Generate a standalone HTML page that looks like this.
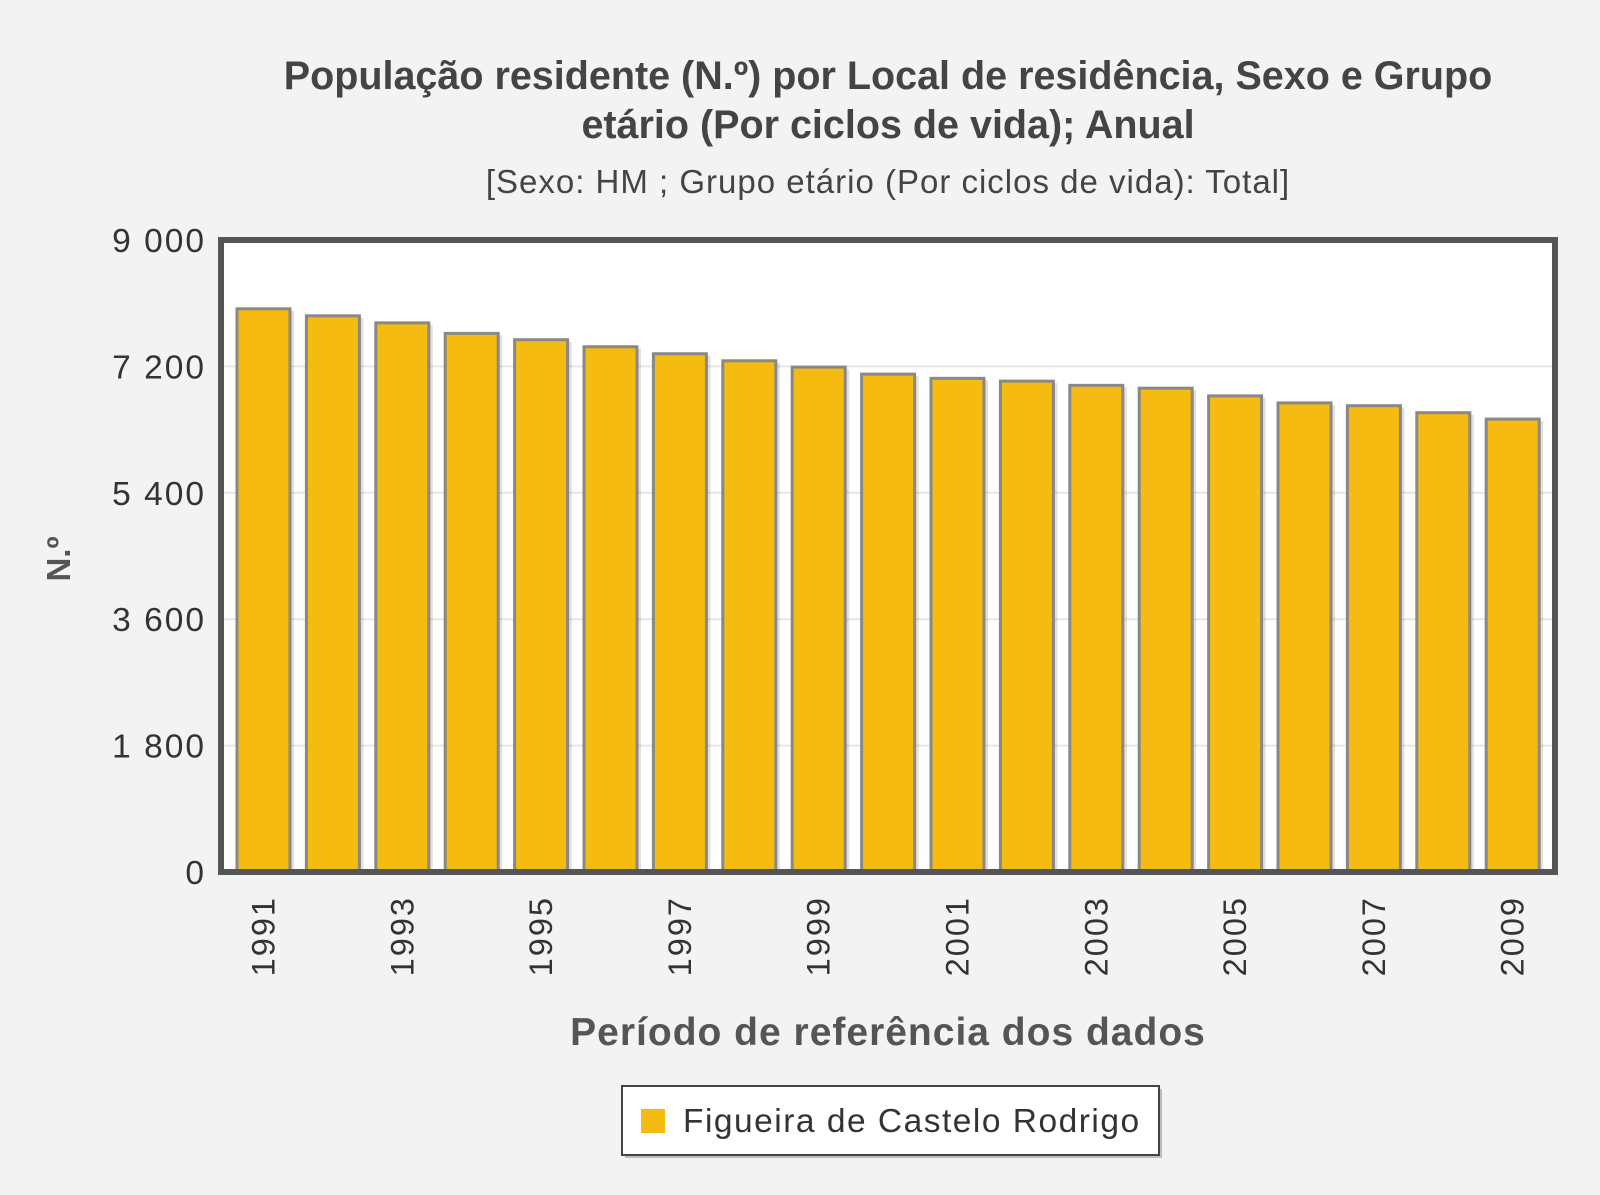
<!DOCTYPE html>
<html><head><meta charset="utf-8"><style>
body{margin:0;background:#f3f3f3;}
svg{display:block;font-family:"Liberation Sans",sans-serif;}
</style></head><body>
<svg width="1600" height="1195" viewBox="0 0 1600 1195">
<rect x="0" y="0" width="1600" height="1195" fill="#f3f3f3"/>
<text x="888" y="89" text-anchor="middle" font-size="39.5" font-weight="bold" fill="#444">População residente (N.º) por Local de residência, Sexo e Grupo</text>
<text x="888" y="138" text-anchor="middle" font-size="39.5" font-weight="bold" fill="#444">etário (Por ciclos de vida); Anual</text>
<text x="888" y="193" text-anchor="middle" font-size="33" letter-spacing="1" fill="#444">[Sexo: HM ; Grupo etário (Por ciclos de vida): Total]</text>
<rect x="221" y="240" width="1334" height="632" fill="#fff"/>
<g id="grid"></g>
<g id="bars"></g>
<rect x="221" y="240" width="1334" height="632" fill="none" stroke="#555" stroke-width="6"/>
<g id="yticks"></g>
<g id="xticks"></g>
<text transform="translate(70,559) rotate(-90)" text-anchor="middle" font-size="33" font-weight="bold" fill="#555">N.º</text>
<text x="888" y="1045" text-anchor="middle" font-size="39" font-weight="bold" letter-spacing="1" fill="#555">Período de referência dos dados</text>
<g>
<rect x="625" y="1089" width="537" height="69" fill="#888" opacity="0.5"/>
<rect x="622" y="1086" width="537" height="69" fill="#fff" stroke="#444" stroke-width="2"/>
<rect x="641" y="1109" width="24" height="24" fill="#f5bb11"/>
<text x="683" y="1132" font-size="33.5" letter-spacing="1.5" fill="#333">Figueira de Castelo Rodrigo</text>
</g>
</svg>
<script>
const years=[1991,1992,1993,1994,1995,1996,1997,1998,1999,2000,2001,2002,2003,2004,2005,2006,2007,2008,2009];
const values=[8020,7920,7820,7670,7580,7480,7380,7280,7190,7090,7030,6990,6930,6890,6780,6680,6640,6540,6450];
const yTicks=[0,1800,3600,5400,7200,9000];
const yTickLabels=["0","1 800","3 600","5 400","7 200","9 000"];
const NS="http://www.w3.org/2000/svg";
const y0=872,yTop=240,yMax=9000;
function yS(v){return y0-(v/yMax)*(y0-yTop);}
const step=69.4,bw=53,x0=237;
function xS(i){return x0+i*step;}
function mk(t,a,p){const e=document.createElementNS(NS,t);for(const k in a)e.setAttribute(k,a[k]);p.appendChild(e);return e;}
const grid=document.getElementById('grid'),bars=document.getElementById('bars'),yt=document.getElementById('yticks'),xt=document.getElementById('xticks');
yTicks.forEach((v,i)=>{
  if(v>0&&v<yMax){const g=mk('line',{x1:224,x2:1552,y1:yS(v),y2:yS(v),stroke:'#e6e6e6','stroke-width':2},grid);
  
  }
  const t=mk('text',{x:206,y:yS(v)+12,'text-anchor':'end','font-size':33.5,'letter-spacing':2,fill:'#333'},yt);
  t.textContent=yTickLabels[i];
  
  
});
values.forEach((v,i)=>{
  const s=mk('rect',{x:xS(i)+4,y:yS(v)+2,width:bw,height:y0-yS(v)-2,fill:'#000',opacity:0.12},bars);
  
  
  const r=mk('rect',{x:xS(i),y:yS(v),width:bw,height:y0-yS(v),fill:'#f5bb11',stroke:'#888','stroke-width':3},bars);
  
  
  if(i%2===0){
    const cx=xS(i)+bw/2+11;
    const t=mk('text',{transform:'translate('+cx+',896) rotate(-90)','text-anchor':'end','font-size':32.5,'letter-spacing':2,fill:'#333'},xt);
    t.textContent=years[i];
    
    
  }
});
</script>
</body></html>
